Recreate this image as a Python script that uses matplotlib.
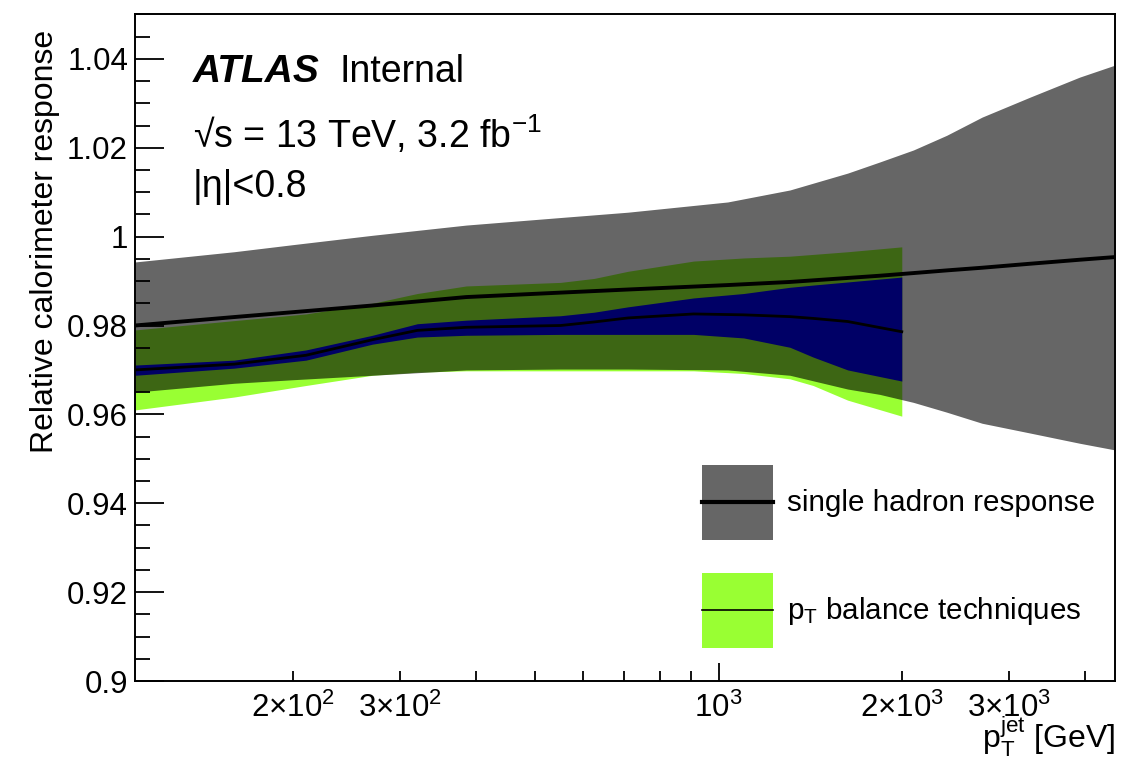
import numpy as np
import matplotlib
matplotlib.use("Agg")
import matplotlib.pyplot as plt
from matplotlib.patches import Patch
from matplotlib.lines import Line2D
from matplotlib.legend_handler import HandlerTuple, HandlerLine2D
from matplotlib.ticker import FixedLocator, FuncFormatter

plt.rcParams['font.family'] = ['Liberation Sans', 'DejaVu Sans']
plt.rcParams['mathtext.fontset'] = 'custom'
plt.rcParams['mathtext.rm'] = 'Liberation Sans'
plt.rcParams['mathtext.it'] = 'Liberation Sans:italic'
plt.rcParams['mathtext.bf'] = 'Liberation Sans:bold'

# single hadron response (band + central value)
had_x = [110, 160, 200, 270, 385, 550, 710, 1035, 1310, 1630, 1840, 2090, 2370, 2710, 3250, 3920, 4480]
had_c = [0.9800, 0.9819, 0.9830, 0.9845, 0.9864, 0.9874, 0.9881, 0.9891, 0.9898, 0.9907, 0.9912,
         0.9918, 0.9924, 0.9930, 0.9939, 0.9948, 0.9954]
had_hi = [0.9943, 0.9966, 0.9982, 1.0003, 1.0026, 1.0043, 1.0055, 1.0078, 1.0105, 1.0143, 1.0168,
          1.0195, 1.0228, 1.0269, 1.0314, 1.0359, 1.0386]
had_lo = [0.9650, 0.9670, 0.9678, 0.9688, 0.9700, 0.9702, 0.9702, 0.9700, 0.9688, 0.9657, 0.9645,
          0.9627, 0.9605, 0.9580, 0.9558, 0.9535, 0.9520]

# pT balance techniques (total band, stat band, central value)
pt_x = [110, 160, 210, 270, 320, 385, 550, 625, 710, 910, 1100, 1310, 1430, 1630, 2000]
pt_c = [0.9700, 0.9713, 0.9733, 0.9768, 0.9789, 0.9796, 0.9800, 0.9808, 0.9817, 0.9826, 0.9824,
        0.9820, 0.9816, 0.9809, 0.9786]
pt_hi = [0.9790, 0.9811, 0.9826, 0.9850, 0.9872, 0.9889, 0.9897, 0.9906, 0.9922, 0.9945, 0.9952,
         0.9956, 0.9960, 0.9966, 0.9977]
pt_lo = [0.9610, 0.9639, 0.9665, 0.9688, 0.9695, 0.9698, 0.9698, 0.9698, 0.9698, 0.9698, 0.9692,
         0.9680, 0.9665, 0.9632, 0.9596]
stat_hi = [0.9711, 0.9722, 0.9745, 0.9778, 0.9804, 0.9812, 0.9822, 0.9830, 0.9842, 0.9862, 0.9872,
           0.9886, 0.9891, 0.9898, 0.9909]
stat_lo = [0.9688, 0.9704, 0.9722, 0.9758, 0.9774, 0.9778, 0.9780, 0.9780, 0.9780, 0.9780, 0.9772,
           0.9751, 0.9729, 0.9700, 0.9675]

x_labels = {200: r'$2{\times}10^{2}$', 300: r'$3{\times}10^{2}$', 1000: r'$10^{3}$',
            2000: r'$2{\times}10^{3}$', 3000: r'$3{\times}10^{3}$'}

LIME = '#99ff33'
GRAY = '#666666'


class CenterLine(HandlerLine2D):
    # legend line through the middle of the box
    def create_artists(self, legend, orig_handle, xdescent, ydescent, width, height, fontsize, trans):
        y = height / 2 - ydescent
        line = Line2D([-xdescent, width - xdescent], [y, y], color=orig_handle.get_color(),
                      lw=orig_handle.get_linewidth())
        line.set_transform(trans)
        return [line]


fig = plt.figure(figsize=(11.21, 7.59), dpi=100)
ax = fig.add_axes([135 / 1121, 1 - 681 / 759, 980 / 1121, 667 / 759])

ax.fill_between(pt_x, pt_lo, pt_hi, color=LIME, lw=0, zorder=1)
ax.fill_between(pt_x, stat_lo, stat_hi, color='#0000ff', lw=0, zorder=2)
ax.plot(pt_x, pt_c, color='black', lw=2.0, zorder=3)
ax.fill_between(had_x, had_lo, had_hi, color='black', alpha=0.6, lw=0, zorder=4)
ax.plot(had_x, had_c, color='black', lw=2.8, zorder=5)

ax.set_xscale('log')
ax.set_xlim(110, 4480)
ax.set_ylim(0.9, 1.0501)

# x ticks: long major tick at 10^3, short ticks elsewhere
minor_x = [m * 10 ** k for k in (2, 3) for m in range(2, 10) if 110 < m * 10 ** k < 4480]
ax.xaxis.set_major_locator(FixedLocator([1000]))
ax.xaxis.set_minor_locator(FixedLocator(minor_x))
ax.xaxis.set_major_formatter(FuncFormatter(lambda v, p: x_labels.get(int(round(v)), '')))
ax.xaxis.set_minor_formatter(FuncFormatter(lambda v, p: x_labels.get(int(round(v)), '')))

ax.yaxis.set_major_locator(FixedLocator(np.arange(0.9, 1.041, 0.02)))
ax.yaxis.set_minor_locator(FixedLocator(np.arange(0.9, 1.0501, 0.005)))
ax.yaxis.set_major_formatter(FuncFormatter(lambda v, p: '%g' % round(v, 3)))

ax.tick_params(which='both', direction='in', top=False, right=False, width=1.3, labelsize=22.5)
ax.tick_params(axis='y', which='major', length=21, pad=5)
ax.tick_params(axis='y', which='minor', length=11)
ax.tick_params(axis='x', which='major', length=13, pad=8.5)
ax.tick_params(axis='x', which='minor', length=7, pad=8.5)
for s in ax.spines.values():
    s.set_linewidth(1.4)

ax.set_ylabel('Relative calorimeter response', fontsize=23, loc='top')
ax.yaxis.set_label_coords(-0.077, 0.976)
ax.set_xlabel(r'$\mathrm{p}_{\mathrm{T}}^{\mathrm{jet}}$ [GeV]', fontsize=23, loc='right')
ax.xaxis.set_label_coords(1.0, -0.051)

ax.text(0.059, 0.898, 'ATLAS', transform=ax.transAxes, fontsize=28, fontweight='bold',
        fontstyle='italic', va='baseline')
ax.text(0.209, 0.898, 'Internal', transform=ax.transAxes, fontsize=27, va='baseline')
ax.text(0.059, 0.799, '\u221as = 13 TeV, 3.2 fb$^{-1}$', transform=ax.transAxes, fontsize=27,
        va='baseline')
ax.text(0.059, 0.726, '|\u03b7|<0.8', transform=ax.transAxes, fontsize=27, va='baseline')

h1 = (Patch(facecolor=GRAY, lw=0), Line2D([], [], color='black', lw=3))
h2 = (Patch(facecolor=LIME, lw=0), Line2D([], [], color='black', lw=1.2))
ax.legend([h1, h2], ['single hadron response', r'$\mathrm{p}_{\mathrm{T}}$ balance techniques'],
          handler_map={tuple: HandlerTuple(ndivide=1), Line2D: CenterLine()}, loc='upper left',
          bbox_to_anchor=(0.5786, 0.3238), frameon=False, fontsize=21.3, borderpad=0,
          borderaxespad=0, handlelength=2.4, handleheight=3.52, labelspacing=1.11,
          handletextpad=0.47)

fig.savefig('out.png', dpi=100)
